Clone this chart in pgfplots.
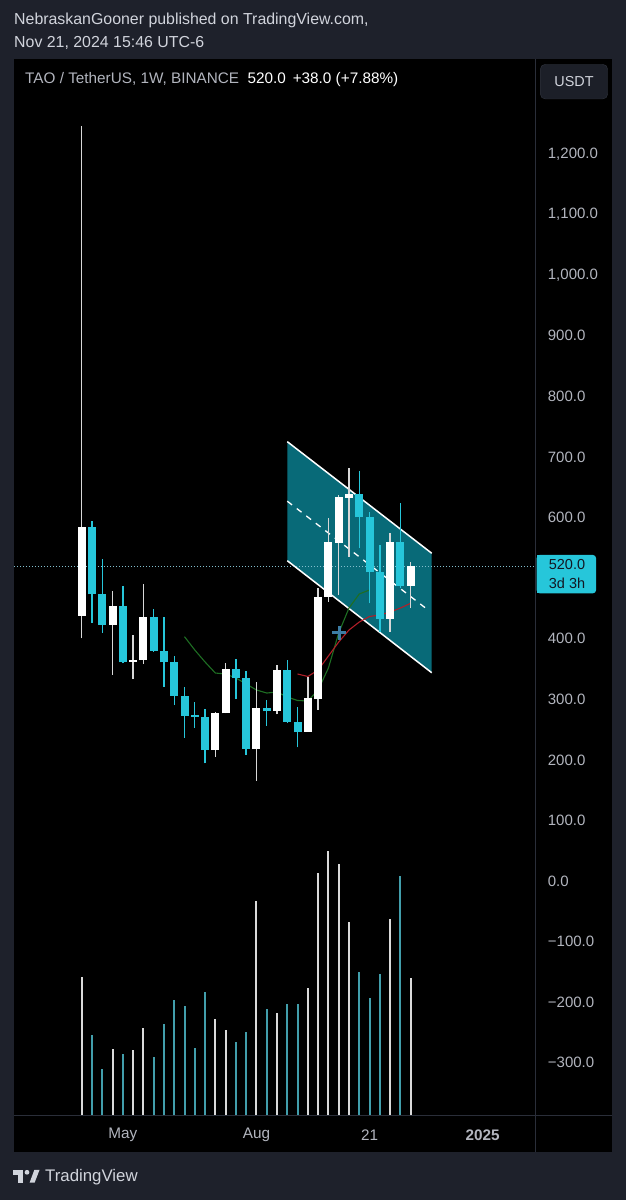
\documentclass[border=0pt]{standalone}
\usepackage{pgfplots}
\pgfplotsset{compat=1.18}
\usepackage{pgfplotstable}
\usepackage{fontspec}
\setmainfont{Liberation Sans}

\definecolor{bgc}{RGB}{30,33,43}
\definecolor{sepc}{RGB}{42,46,57}
\definecolor{hdrc}{RGB}{209,212,220}
\definecolor{labc}{RGB}{178,181,190}
\definecolor{cyanc}{RGB}{38,198,218}
\definecolor{upc}{RGB}{255,255,255}
\definecolor{wickup}{RGB}{215,215,215}
\definecolor{voldn}{RGB}{66,158,171}
\definecolor{volup}{RGB}{218,218,218}
\definecolor{chanc}{RGB}{8,106,120}
\definecolor{mag}{RGB}{30,110,35}
\definecolor{mar}{RGB}{178,30,40}
\definecolor{crossc}{RGB}{60,125,165}
\definecolor{dotc}{RGB}{130,190,205}
\definecolor{btnc}{RGB}{28,31,40}
\definecolor{btnb}{RGB}{48,52,62}
\definecolor{boxtxt}{RGB}{19,23,34}

% weekly candles: index, open, high, low, close
\pgfplotstableread{
i O H L C
0 437.9 1246 400.6 584.9
3 422.6 478.7 340.5 454.4
5 362 405.6 333.4 364.8
6 364.8 490.8 358.2 435.3
13 216.2 279.5 205.2 277.8
14 276.7 360.4 276.7 350
17 217.9 328 165.1 285.1
19 280.6 356.6 275.2 348.3
22 246.4 337.2 246.4 301.6
23 300.4 483.2 282.3 469.3
24 469.3 598.7 461 560.1
25 558.4 637 472.1 634.4
26 632.7 681.3 535.3 638.8
30 432.5 574 411.5 559.6
32 487 526 450.2 520
}\upcandles

\pgfplotstableread{
i O H L C
1 584.9 594.3 426.4 473.3
2 473.3 531.5 409.9 422.6
4 454.4 487.5 359.4 361
7 435.3 449.5 378.5 380.2
8 380.2 435.3 320.7 361
9 361 371.4 290.5 305.4
10 305.4 320.7 236.5 272.4
11 273.5 295.5 253 271
12 271 284.4 194.3 216.2
15 350 366 300.4 334.6
16 334.6 347.1 208 217.9
18 285.1 298.8 255.9 280
20 348.3 364.3 261.3 263
21 263 286.7 220.7 245.5
27 638.8 677.3 549.2 600.4
28 600.4 609.6 458.4 509.6
29 509.6 554.6 411.5 432.5
31 559.6 623.5 483 487
}\dncandles

% volume (arbitrary units)
\pgfplotstableread{
i V
0 139
3 67
5 65.7
6 88
13 96.7
14 85.7
17 215
19 103
22 128
23 243
24 264.4
25 251.4
26 194
30 196.7
32 137.4
}\upvol

\pgfplotstableread{
i V
1 80.4
2 46.4
4 61.7
7 58.4
8 91.7
9 115.4
10 110
11 67.7
12 123.7
15 73.4
16 84
18 106.7
20 112
21 112
27 143.4
28 117.4
29 142
31 240
}\dnvol

\pgfplotstableread{
i P
10 403.3
11 381.3
12 361.5
13 343.3
14 341.7
15 335.1
16 325.2
17 315.3
18 310.3
19 312
20 303.7
21 298
22 297.1
23 315.3
24 351.6
25 409.4
26 450.6
27 473.8
28 480.4
}\magreen

\pgfplotstableread{
i P
21 341.7
22 337.6
23 348.3
24 371.4
25 394.5
26 414.3
27 427.5
28 436.6
29 439.1
30 444
31 450.6
32 458.4
}\mared

\begin{document}
\begin{tikzpicture}[x=1pt,y=1pt]
\path[use as bounding box] (0,0) rectangle (626,1200);
\fill[bgc] (0,0) rectangle (626,1200);
\fill[black] (14,47.7) rectangle (612,1140.7);

% volume pane
\begin{axis}[
  at={(14pt,84.3pt)}, anchor=south west,
  width=521.3pt, height=1056.4pt, scale only axis,
  xmin=-6.586, xmax=44.125, ymin=0, ymax=1056.4,
  hide axis, clip=true]
\addplot[ycomb, mark=none, draw=volup, line width=2pt] table[x=i,y=V] {\upvol};
\addplot[ycomb, mark=none, draw=voldn, line width=2pt] table[x=i,y=V] {\dnvol};
\end{axis}

% price pane
\begin{axis}[
  at={(14pt,84.3pt)}, anchor=south west,
  width=521.3pt, height=1056.4pt, scale only axis,
  xmin=-6.586, xmax=44.125, ymin=-387.4, ymax=1356.4,
  axis line style={draw=none}, major tick length=0pt, tick style={draw=none},
  xtick={4,17,28,39}, xticklabels={May,Aug,21,\textbf{2025}},
  xticklabel style={anchor=center, inner sep=0pt, yshift=-19.3pt, text=labc, font=\fontsize{15.3}{16}\selectfont},
  ytick={-300,-200,-100,0,100,200,300,400,600,700,800,900,1000,1100,1200},
  yticklabels={−300.0,−200.0,−100.0,0.0,100.0,200.0,300.0,400.0,600.0,700.0,800.0,900.0,{1,000.0},{1,100.0},{1,200.0}},
  yticklabel pos=right,
  yticklabel style={anchor=west, inner sep=0pt, xshift=12.4pt, text=labc, font=\fontsize{15}{16}\selectfont},
  clip=true]
% channel
\addplot[fill=chanc, draw=none] coordinates {(20,725.2) (34.05,541) (34.05,343.8) (20,528.7)};
\addplot[white, line width=1.5pt] coordinates {(20,725.2) (34.05,541)};
\addplot[white, line width=1.5pt] coordinates {(20,528.7) (34.05,343.8)};
\addplot[white, line width=1.3pt, dash pattern=on 6pt off 6pt] coordinates {(20,626.9) (33.56,449.1)};
% last price line
\addplot[dotc, line width=0.9pt, dash pattern=on 1pt off 2pt] coordinates {(-6.586,520) (44.125,520)};
% moving averages
\addplot[mag, line width=1.1pt] table[x=i,y=P] {\magreen};
\addplot[mar, line width=1.1pt] table[x=i,y=P] {\mared};
% wicks
\addplot[draw=none, mark=none, error bars/.cd, y dir=plus, y explicit, error mark=none,
  error bar style={draw=wickup, line width=1.4pt}]
  table[x=i, y=L, y error expr=\thisrow{H}-\thisrow{L}] {\upcandles};
\addplot[draw=none, mark=none, error bars/.cd, y dir=plus, y explicit, error mark=none,
  error bar style={draw=cyanc, line width=1.4pt}]
  table[x=i, y=L, y error expr=\thisrow{H}-\thisrow{L}] {\dncandles};
% bodies
\addplot[draw=none, mark=none, error bars/.cd, y dir=plus, y explicit, error mark=none,
  error bar style={draw=upc, line width=8pt}]
  table[x=i, y=O, y error expr=\thisrow{C}-\thisrow{O}] {\upcandles};
\addplot[draw=none, mark=none, error bars/.cd, y dir=plus, y explicit, error mark=none,
  error bar style={draw=cyanc, line width=8pt}]
  table[x=i, y=C, y error expr=\thisrow{O}-\thisrow{C}] {\dncandles};
% marker
\addplot[only marks, mark=+, mark size=7pt, mark options={line width=3.5pt, draw=crossc}] coordinates {(25.06,409.9)};
\end{axis}

% separators
\draw[sepc, line width=1pt] (535.3,47.7) -- (535.3,1140.7);
\draw[sepc, line width=1pt] (14,84.3) -- (612,84.3);

% header
\node[anchor=west, inner sep=0pt, text=hdrc, font=\fontsize{15.9}{16}\selectfont] at (14,1179.3) {NebraskanGooner published on TradingView.com,};
\node[anchor=west, inner sep=0pt, text=hdrc, font=\fontsize{15.9}{16}\selectfont] at (14,1156.7) {Nov 21, 2024 15:46 UTC-6};

% legend
\node[anchor=west, inner sep=0pt, text=labc, font=\fontsize{15.3}{16}\selectfont] at (25,1120.7) {TAO / TetherUS, 1W, BINANCE};
\node[anchor=west, inner sep=0pt, text=white, font=\fontsize{15.3}{16}\selectfont] at (247.3,1120.7) {520.0\hspace{7pt}+38.0 (+7.88\%)};

% currency button
\filldraw[fill=btnc, draw=btnb, rounded corners=5pt] (540.3,1101) rectangle (607.7,1135.7);
\node[inner sep=0pt, text=hdrc, font=\fontsize{14.4}{15}\selectfont] at (574,1118.4) {USDT};

% last price box
\fill[cyanc, rounded corners=3pt] (536.7,606.7) rectangle (596,645);
\fill[cyanc] (536.7,606.7) rectangle (542,645);
\node[inner sep=0pt, align=center, text=boxtxt, font=\fontsize{14.5}{19}\selectfont] at (567,625.5) {520.0\\3d 3h};

% TradingView logo
\fill[hdrc] (13.3,30) rectangle (23.2,25.3);
\fill[hdrc] (17.8,30) rectangle (23.2,17.3);
\fill[hdrc] (27,27.7) circle (2.4);
\fill[hdrc] (29.6,17.3) -- (34.6,17.3) -- (39.5,30) -- (34.3,30) -- cycle;
\node[anchor=west, inner sep=0pt, text=hdrc, font=\fontsize{16.8}{17}\selectfont] at (45,22.7) {TradingView};
\end{tikzpicture}
\end{document}
